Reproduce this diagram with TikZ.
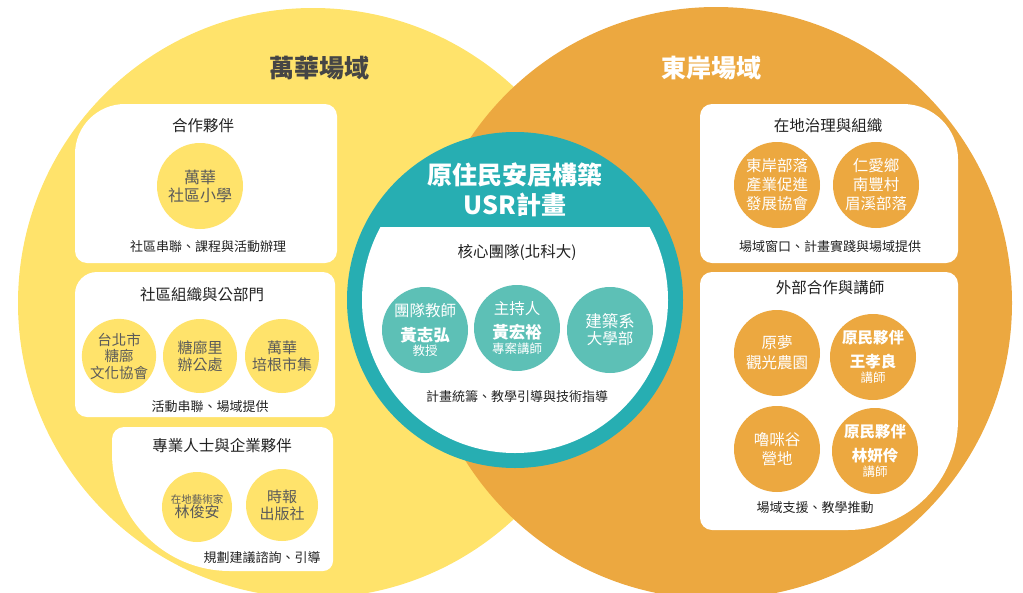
\documentclass[tikz,border=0pt]{standalone}
\usepackage{fontspec}
\setmainfont{Noto Sans CJK TC}
\definecolor{cyel}{HTML}{FFE36B}
\definecolor{corg}{HTML}{ECA840}
\definecolor{cteal}{HTML}{27AEB2}
\definecolor{clteal}{HTML}{5DC0B6}
\definecolor{cgray}{HTML}{5A5A5A}
\definecolor{cdark}{HTML}{222222}
\definecolor{ctitle}{HTML}{454545}
\newcommand{\pnl}[8]{\fill[white] ({#1+#5},#2) -- ({#3-#6},#2) arc[start angle=270,end angle=360,radius=#6] -- (#3,{#4-#7}) arc[start angle=0,end angle=90,radius=#7] -- ({#1+#8},#4) arc[start angle=90,end angle=180,radius=#8] -- (#1,{#2+#5}) arc[start angle=180,end angle=270,radius=#5] -- cycle;}
\begin{document}
\begin{tikzpicture}[x=1pt,y=-1pt,
  bigtitle/.style={font=\bfseries\fontsize{25}{30}\selectfont},
  ptitle/.style={font=\fontsize{15.5}{19}\selectfont, text=cdark, inner sep=0pt},
  pnote/.style={font=\fontsize{13}{16}\selectfont, text=cdark, inner sep=0pt},
  ycirc/.style={circle, fill=cyel, text=cgray, align=center, inner sep=0pt, font=\fontsize{15}{17}\selectfont},
  ocirc/.style={circle, fill=corg, text=white, align=center, inner sep=0pt, minimum size=86pt, font=\fontsize{15.5}{19}\selectfont},
  tcirc/.style={circle, fill=clteal, text=white, align=center, inner sep=0pt, minimum size=86pt, font=\fontsize{15.5}{19}\selectfont}]
\useasboundingbox (0,0) rectangle (1023,592);
\clip (0,0) rectangle (1023,592);
% big fields
\fill[cyel] (313,303) circle[radius=295];
\fill[corg] (716,303) circle[radius=296];
\node[bigtitle, text=ctitle] (tw) at (319,68) {萬華場域};
\node[bigtitle, text=white] (te) at (711,68) {東岸場域};
% left panels
\pnl{75}{104}{337}{263}{50}{12}{12}{12}
\pnl{75}{272}{335}{417}{22}{12}{12}{12}
\pnl{112}{427}{333}{571}{12}{12}{10}{118}
% right panels
\pnl{700}{104}{958}{263}{12}{55}{12}{12}
\pnl{700}{272}{958}{530}{12}{12}{110}{12}
% core
\node[circle, fill=cteal, minimum size=336pt, inner sep=0pt] (core) at (515,300) {};
\begin{scope}
\clip (300,227) rectangle (730,480);
\fill[white] (515,300) circle[radius=153];
\end{scope}
\node[bigtitle, text=white] (ct1) at (515,175) {原住民安居構築};
\node[bigtitle, text=white] (ct2) at (515,205) {USR計畫};
\node[ptitle] (ctt) at (517,252) {核心團隊(北科大)};
\node[tcirc] (tea) at (425,330) {團隊教師\\[6pt]{\bfseries\fontsize{16.5}{19}\selectfont 黃志弘}\\[-5.5pt]{\fontsize{12.5}{14}\selectfont 教授}};
\node[tcirc] (hst) at (517,328) {主持人\\[5pt]{\bfseries\fontsize{16.5}{19}\selectfont 黃宏裕}\\[-4.5pt]{\fontsize{12.5}{14}\selectfont 專案講師}};
\node[tcirc] (arc) at (610,330) {\fontsize{16.5}{19}\selectfont 建築系\\[-2pt]大學部};
\node[pnote] (ctn) at (517,397) {計畫統籌、教學引導與技術指導};
% panel 1
\node[ptitle] (p1t) at (203,126) {合作夥伴};
\node[ycirc, minimum size=86pt, font=\fontsize{16}{18}\selectfont] (wsch) at (200,186) {萬華\\社區小學};
\node[pnote] (p1n) at (208,247) {社區串聯、課程與活動辦理};
% panel 2
\node[ptitle] (p2t) at (202,295) {社區組織與公部門};
\node[ycirc, minimum size=74pt, font=\fontsize{14.5}{16.5}\selectfont] (tpe) at (119,356) {台北市\\糖廍\\文化協會};
\node[ycirc, minimum size=74pt] (tlo) at (200,356) {糖廍里\\辦公處};
\node[ycirc, minimum size=74pt] (pgm) at (282,356) {萬華\\培根市集};
\node[pnote] (p2n) at (210,407) {活動串聯、場域提供};
% panel 3
\node[ptitle] (p3t) at (222,446) {專業人士與企業夥伴};
\node[ycirc, minimum size=70pt] (art) at (197,507) {{\fontsize{10.5}{12}\selectfont 在地藝術家}\\[-3pt]林俊安};
\node[ycirc, minimum size=72pt] (cts) at (282,505) {時報\\出版社};
\node[pnote] (p3n) at (262,558) {規劃建議諮詢、引導};
% right panel 1
\node[ptitle] (r1t) at (828,126) {在地治理與組織};
\node[ocirc] (dab) at (777,185) {東岸部落\\產業促進\\發展協會};
\node[ocirc] (mxb) at (876,185) {仁愛鄉\\南豐村\\眉溪部落};
\node[pnote] (r1n) at (830,247) {場域窗口、計畫實踐與場域提供};
% right panel 2
\node[ptitle] (r2t) at (830,288) {外部合作與講師};
\node[ocirc] (ymf) at (777,353) {原夢\\[1pt]觀光農園};
\node[ocirc] (wxl) at (873,357) {{\bfseries 原民夥伴}\\[5pt]{\bfseries 王孝良}\\[-4pt]{\fontsize{12.5}{14}\selectfont 講師}};
\node[ocirc] (lmg) at (777,449) {嚕咪谷\\營地};
\node[ocirc] (lyl) at (875,451) {{\bfseries 原民夥伴}\\[5pt]{\bfseries 林妍伶}\\[-4pt]{\fontsize{12.5}{14}\selectfont 講師}};
\node[pnote] (r2n) at (815,508) {場域支援、教學推動};
\end{tikzpicture}
\end{document}
